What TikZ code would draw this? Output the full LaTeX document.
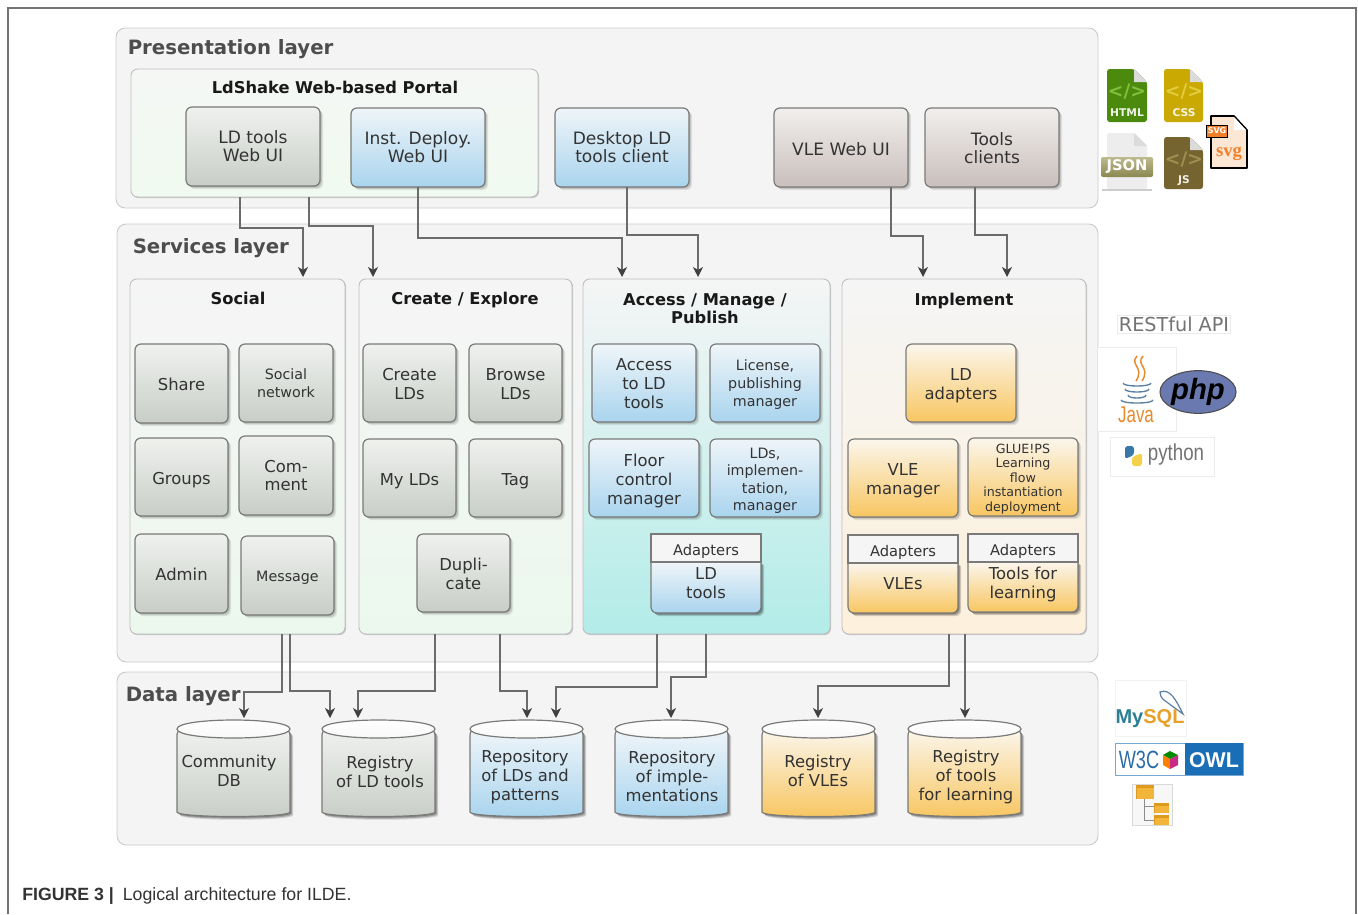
\documentclass[tikz,border=0pt]{standalone}
\usepackage{fontspec}
\setmainfont{DejaVu Sans}
\newfontfamily\capfont{Liberation Sans}
\newfontfamily\serffont{Liberation Serif}
\usetikzlibrary{arrows.meta,shadows,shapes.geometric,calc}
\definecolor{txt}{HTML}{333333}
\definecolor{head}{HTML}{4D4D4D}
\definecolor{bord}{HTML}{7A7A78}
\definecolor{gT}{HTML}{EFF1EE}\definecolor{gB}{HTML}{C8CEC7}
\definecolor{bT}{HTML}{EFF5F9}\definecolor{bB}{HTML}{A9D4EE}
\definecolor{rT}{HTML}{F1EFED}\definecolor{rB}{HTML}{C9BFBC}
\definecolor{oT}{HTML}{FBF6EC}\definecolor{oB}{HTML}{F8C661}
\definecolor{pT}{HTML}{F5F7F5}\definecolor{pB}{HTML}{F0FAF0}
\definecolor{sT}{HTML}{F5F5F5}\definecolor{sB}{HTML}{ECF8EE}
\definecolor{aB}{HTML}{B2ECE8}\definecolor{iB}{HTML}{FDF0DC}
\definecolor{htmlc}{HTML}{4C8A0E}\definecolor{htmlk}{HTML}{7FC13A}
\definecolor{cssc}{HTML}{C9A902}\definecolor{cssk}{HTML}{E3CC3E}
\definecolor{jsc}{HTML}{75642F}\definecolor{jsk}{HTML}{A08F50}
\definecolor{jsonb}{HTML}{A39E5F}\definecolor{svgo}{HTML}{F0802A}
\definecolor{javao}{HTML}{E88A2E}\definecolor{javab}{HTML}{5A7FA0}
\definecolor{phpc}{HTML}{6A7AB0}\definecolor{pyb}{HTML}{3A78A8}\definecolor{pyy}{HTML}{F5D04A}
\definecolor{myt}{HTML}{2A7F94}\definecolor{mys}{HTML}{E8A02A}
\definecolor{owlb}{HTML}{1A6EB5}\definecolor{w3cb}{HTML}{2B6CA8}
\definecolor{foldA}{HTML}{DE9A1C}\definecolor{foldB}{HTML}{F2B53A}
\newcommand\fa{\fontsize{12.8}{13.5}\selectfont}
\newcommand\fb{\fontsize{12.3}{14.2}\selectfont}
\newcommand\fc{\fontsize{10.7}{13.2}\selectfont}
\newcommand\fd{\fontsize{9.5}{10.9}\selectfont}
% text moved down by #1 px inside its node
\newcommand\sh[2]{\raisebox{\dimexpr-#1\dimexpr.75pt\relax-.25em\relax}[0pt][0pt]{\begin{tabular}{@{}c@{}}#2\end{tabular}}}
\tikzset{
  softshadow/.style={
    drop shadow={shadow xshift=.8pt,shadow yshift=-.8pt,fill=black,opacity=.11},
    drop shadow={shadow xshift=1.6pt,shadow yshift=-1.6pt,fill=black,opacity=.11},
    drop shadow={shadow xshift=2.4pt,shadow yshift=-2.4pt,fill=black,opacity=.08}},
  layerp/.style={draw=black!20,fill=black!4.5,rounded corners=7pt,line width=.7pt},
  grad/.style 2 args={top color=#1,bottom color=#2},
  paneltitle/.style={font=\fontsize{12.2}{13.5}\selectfont\bfseries,text=black!90,align=center},
  layertitle/.style={font=\fontsize{14.8}{16}\selectfont\bfseries,text=head,anchor=west,inner sep=0pt},
  panel/.style={draw=black!25,line width=.7pt,rounded corners=5pt,inner sep=0pt,outer sep=0pt,
    drop shadow={shadow xshift=.8pt,shadow yshift=-.8pt,fill=black,opacity=.2}},
  cbox/.style={draw=bord,line width=.9pt,rounded corners=4.5pt,inner sep=0pt,outer sep=0pt,align=center,text=txt,font=\fb,softshadow},
  gbox/.style={cbox,grad={gT}{gB}},
  bbox/.style={cbox,grad={bT}{bB}},
  rbox/.style={cbox,grad={rT}{rB}},
  obox/.style={cbox,grad={oT}{oB}},
  adapt/.style={draw=bord,line width=.9pt,fill=black!4,inner sep=0pt,outer sep=0pt,align=center,text=txt,font=\fontsize{11}{13}\selectfont},
  cylb/.style={draw=bord,line width=.9pt,softshadow},
  conn/.style={draw=black!58,line width=.8pt,-{Stealth[length=7.5pt,width=7.5pt,inset=2.2pt,color=black!75]}},
  lbl/.style={inner sep=0pt,outer sep=0pt,align=center,text=txt},
}
% name x1 y1 x2 y2 style text
\newcommand\bx[7]{\node[#6,minimum width={(#4-#2)*0.75pt},minimum height={(#5-#3)*0.75pt}] (#1) at ({(#2+#4)/2},{(#3+#5)/2}) {#7};}
% name x1 x2 y1 ym y2 colourstyle text texty
\newcommand\adbox[9]{%
  \path[cylb,#7] (#2,#5) [rounded corners=4.5pt] -- (#2,#6) -- (#3,#6) [sharp corners] -- (#3,#5) -- cycle;
  \node[adapt,minimum width={(#3-#2)*0.75pt},minimum height={(#5-#4)*0.75pt}] (#1a) at ({(#2+#3)/2},{(#4+#5)/2}) {\sh{4}{Adapters}};
  \node[lbl,font=\fb,minimum width={(#3-#2)*0.75pt}] (#1) at ({(#2+#3)/2},#9) {#8};}
% name x1 x2 colourstyle text text-x text-y (text-x as #6, text-y as #7)
\newcommand\cyl[7]{%
  \path[cylb,#4] (#2,729) -- (#2,806) .. controls (#2,818) and (#3,818) .. (#3,806) -- (#3,729) -- cycle;
  \path[draw=bord,line width=.9pt,top color=white,bottom color=black!3] (#2,729) .. controls (#2,717) and (#3,717) .. (#3,729) .. controls (#3,741) and (#2,741) .. (#2,729) -- cycle;
  \node[inner sep=0pt,outer sep=0pt,minimum width={(#3-#2)*0.75pt},minimum height=71.25pt] (#1) at ({(#2+#3)/2},767.5) {};
  \node[lbl,font=\fb] (#1t) at (#6,#7) {#5};}
% src x1 ymid dst x2
\newcommand\conn[5]{\draw[conn] (#1.south -| #2,0) -- (#2,#3) -- (#5,#3) -- ([yshift=1.5pt]#4.north -| #5,0);}
% doc icon: x1 y1 x2 y2 fold colour
\newcommand\doc[6]{%
  \fill[#6,rounded corners=2pt] (#1,#2) -- ({#3-#5},#2) -- (#3,{#2+#5}) -- (#3,#4) -- (#1,#4) -- cycle;
  \fill[black!14] ({#3-#5},#2) -- (#3,{#2+#5}) -- ({#3-#5},{#2+#5}) -- cycle;}
\begin{document}
\begin{tikzpicture}[x=0.75pt,y=-0.75pt]
\useasboundingbox (0,0) rectangle (1358,914);
\fill[white] (0,0) rectangle (1358,914);
% frame
\draw[black!55,line width=1.3pt] (8,914) -- (8,8) -- (1356,8) -- (1356,914);
% layers
\bx{presentation}{116}{28}{1098}{208}{layerp}{}
\bx{services}{117}{224}{1098}{662}{layerp}{}
\bx{datal}{117}{672}{1098}{845}{layerp}{}
\node[layertitle] (tp) at (127.5,49) {Presentation layer};
\node[layertitle] (ts) at (132.5,248) {Services layer};
\node[layertitle] (td) at (125.5,696) {Data layer};
% portal
\bx{portal}{131}{69}{538}{197}{panel,grad={pT}{pB}}{}
\node[paneltitle] (tportal) at (335,87) {LdShake Web-based Portal};
\bx{ldtoolsui}{186}{107}{320}{186}{gbox,font=\fa}{LD tools\\Web UI}
\bx{instui}{351}{108}{485}{187}{bbox,font=\fa}{Inst. Deploy.\\Web UI}
\bx{desktop}{555}{108}{689}{187}{bbox,font=\fa}{Desktop LD\\tools client}
\bx{vleui}{774}{108}{908}{187}{rbox,font=\fa}{\sh{3.5}{VLE Web UI}}
\bx{toolscl}{925}{108}{1059}{187}{rbox,font=\fa}{\sh{3}{Tools\\clients}}
% service panels
\bx{social}{130}{279}{345}{634}{panel,grad={sT}{sB}}{}
\bx{create}{359}{279}{572}{634}{panel,grad={sT}{sB}}{}
\bx{access}{583}{279}{830}{634}{panel,grad={sT}{aB}}{}
\bx{implement}{842}{279}{1086}{634}{panel,grad={sT}{iB}}{}
\node[paneltitle] (t1) at (238,298) {Social};
\node[paneltitle] (t2) at (465,300) {Create / Explore};
\node[paneltitle] (t3) at (705,309) {Access / Manage /\\Publish};
\node[paneltitle] (t4) at (964,301) {Implement};
% social
\bx{share}{135}{344}{228}{423}{gbox}{\sh{3.5}{Share}}
\bx{socnet}{239}{344}{333}{422}{gbox,font=\fc}{Social\\network}
\bx{groups}{135}{438}{228}{516}{gbox}{\sh{3.5}{Groups}}
\bx{comment}{239}{436}{333}{515}{gbox}{Com-\\ment}
\bx{admin}{135}{534}{228}{613}{gbox}{\sh{3.5}{Admin}}
\bx{message}{241}{536}{334}{615}{gbox,font=\fc}{\sh{3}{Message}}
% create
\bx{createld}{363}{344}{456}{422}{gbox}{\sh{3.5}{Create\\LDs}}
\bx{browse}{469}{344}{562}{422}{gbox}{\sh{3.5}{Browse\\LDs}}
\bx{myld}{363}{439}{456}{517}{gbox}{\sh{3.5}{My LDs}}
\bx{tag}{469}{439}{562}{517}{gbox}{\sh{3.5}{Tag}}
\bx{dup}{417}{534}{510}{612}{gbox}{\sh{3.5}{Dupli-\\cate}}
% access
\bx{acc}{592}{344}{696}{422}{bbox}{\sh{2.5}{Access\\to LD\\tools}}
\bx{lic}{710}{344}{820}{422}{bbox,font=\fc}{\sh{2}{License,\\publishing\\manager}}
\bx{floor}{589}{439}{699}{517}{bbox}{\sh{3.5}{Floor\\control\\manager}}
\bx{ldimp}{710}{439}{820}{517}{bbox,font=\fc}{\sh{3}{LDs,\\implemen-\\tation,\\manager}}
\adbox{ldt}{651}{761}{534}{562}{613}{bbox}{LD\\tools}{583.5}
% implement
\bx{ldad}{906}{344}{1016}{422}{obox}{\sh{3.5}{LD\\adapters}}
\bx{vlem}{848}{439}{958}{517}{obox}{\sh{3.5}{VLE\\manager}}
\bx{glue}{968}{438}{1078}{516}{obox,font=\fd}{\sh{2}{GLUE!PS\\Learning\\flow\\instantiation\\deployment}}
\adbox{vles}{848}{958}{535}{563}{613}{obox}{VLEs}{584}
\adbox{tfl}{968}{1078}{534}{562}{612}{obox}{Tools for\\learning}{584.5}
% data
\cyl{commdb}{177}{290}{gbox}{Community\\DB}{229}{771}
\cyl{regld}{322}{435}{gbox}{Registry\\of LD tools}{380}{771.5}
\cyl{repold}{470}{583}{bbox}{Repository\\of LDs and\\patterns}{525}{777}
\cyl{repoim}{615}{728}{bbox}{Repository\\of imple-\\mentations}{672}{776}
\cyl{regvle}{762}{875}{obox}{Registry\\of VLEs}{818}{771}
\cyl{regtl}{908}{1021}{obox}{Registry\\of tools\\for learning}{966}{777}
% connectors
\conn{portal}{240}{228}{social}{303}
\conn{portal}{309}{226}{create}{373}
\conn{instui}{418}{238}{access}{622}
\conn{desktop}{627}{235}{access}{698}
\conn{vleui}{891}{236}{implement}{923}
\conn{toolscl}{975}{235}{implement}{1007}
\conn{social}{282}{692}{commdb}{244}
\conn{social}{290}{691}{regld}{330}
\conn{create}{435}{691}{regld}{358}
\conn{create}{500}{691}{repold}{527}
\conn{access}{657}{687}{repold}{556}
\conn{access}{706}{677}{repoim}{671}
\conn{implement}{949}{686}{regvle}{818}
\draw[conn] (implement.south -| 965,0) -- ([yshift=1.5pt]regtl.north -| 965,0);
% file icons
\doc{1107}{69}{1147}{122}{13}{htmlc}
\node[font=\bfseries\fontsize{14}{14}\selectfont,text=htmlk] (hc) at (1127,92) {</>};
\node[font=\bfseries\fontsize{8}{9}\selectfont,text=white!90!htmlc] (ht) at (1127,113) {HTML};
\doc{1164}{69}{1203}{122}{13}{cssc}
\node[font=\bfseries\fontsize{14}{14}\selectfont,text=cssk] (cc) at (1184,92) {</>};
\node[font=\bfseries\fontsize{8}{9}\selectfont,text=white!90!cssc] (ct) at (1184,113) {CSS};
\doc{1107}{133}{1147}{190}{13}{black!7}
\fill[black!20] (1102,189) rectangle (1152,191);
\node[top color=jsonb!70!white,bottom color=jsonb!85!black,rounded corners=1.5pt,minimum width=39pt,minimum height=15pt,inner sep=0pt,font=\bfseries\fontsize{11}{12}\selectfont,text=white] (jt) at (1127,167) {JSON};
\doc{1164}{137}{1203}{189}{13}{jsc}
\node[font=\bfseries\fontsize{14}{14}\selectfont,text=jsk] (jc) at (1184,160) {</>};
\node[font=\bfseries\fontsize{8}{9}\selectfont,text=white!90!jsc] (jst) at (1184,181) {JS};
\draw[black,line width=1.2pt,fill=svgo!20!white,line join=round] (1211,116) -- (1234,116) -- (1247,130) -- (1247,168) -- (1211,168) -- cycle;
\fill[white] (1234,117) -- (1246,130) -- (1234,130) -- cycle;
\node[draw=black,fill=svgo,minimum width=16pt,minimum height=9pt,inner sep=0pt,font=\bfseries\fontsize{6}{7}\selectfont,text=white] (st) at (1217,131) {SVG};
\node[font=\serffont\bfseries\fontsize{14}{14}\selectfont,text=svgo] (sv) at (1229,154) {svg};
% REST
\node[draw=black!8,inner sep=1pt,font=\fontsize{14.4}{15}\selectfont,text=black!55] (rest) at (1174,324) {RESTful API};
\draw[black!7,fill=white] (1098,347) -- (1176,347) -- (1176,431) -- (1098,431);
\foreach \dx in {0,6}{\draw[javao,line width=1.1pt] ({1137+\dx},356) .. controls ({1129+\dx},365) and ({1145+\dx},367) .. ({1136+\dx},381);}
\foreach \yy/\rx in {383/14,389/12,395/9,400/16}{\draw[javab,line width=1pt] ({1137-\rx},\yy) .. controls ({1137-\rx},{\yy+4}) and ({1137+\rx},{\yy+4}) .. ({1137+\rx},\yy);}
\node[font=\capfont\fontsize{15.5}{16}\selectfont,text=javao] (java) at (1136,415) {\scalebox{.82}[1.1]{Java}};
\node[draw=black!70,line width=.8pt,ellipse,fill=phpc,minimum width=56pt,minimum height=32pt,inner sep=0pt,font=\capfont\bfseries\itshape\fontsize{22}{22}\selectfont,text=black] (php) at (1198,392) {php};
\node[draw=black!7,minimum width=78pt,minimum height=29pt,inner sep=0pt] (pybox) at (1162.5,456.5) {};
\fill[pyb,rounded corners=2pt] (1125,446) -- (1134,446) -- (1134,455) -- (1125,459) -- cycle;
\fill[pyy,rounded corners=2pt] (1142,453) -- (1142,466) -- (1132,466) -- (1132,457) -- cycle;
\node[font=\capfont\fontsize{16.5}{17}\selectfont,text=black!55] (py) at (1176,455) {\scalebox{.85}[1.05]{python}};
% data icons
\node[draw=black!5,minimum width=53pt,minimum height=42pt,inner sep=0pt] (mybox) at (1150.5,708) {};
\draw[javab,line width=.9pt,fill=white] (1160,692) .. controls (1170,688) and (1176,700) .. (1183,714) .. controls (1175,708) and (1172,706) .. (1168,703) .. controls (1164,700) and (1160,698) .. (1160,692) -- cycle;
\node[font=\capfont\bfseries\fontsize{15}{15}\selectfont,anchor=base] (my) at (1150,723) {\textcolor{myt}{My}\textcolor{mys}{SQL}};
\node[draw=owlb!60!white,fill=white,minimum width=96pt,minimum height=24pt,inner sep=0pt] (owlbox) at (1179,759) {};
\fill[owlb] (1185,743) rectangle (1243,775);
\node[font=\capfont\bfseries\fontsize{16}{16}\selectfont,text=white] (owl) at (1214,760) {OWL};
\node[font=\capfont\fontsize{17}{17}\selectfont,text=w3cb] (w3c) at (1139,760) {\scalebox{.8}[1.1]{W3C}};
\fill[green!55!black] (1163,755) -- (1170,751) -- (1178,755) -- (1170,759) -- cycle;
\fill[orange] (1163,755) -- (1170,759) -- (1170,769) -- (1163,765) -- cycle;
\fill[magenta!80!black] (1178,755) -- (1170,759) -- (1170,769) -- (1178,765) -- cycle;
\node[draw=black!15,fill=black!3,minimum width=30pt,minimum height=31pt,inner sep=0pt] (treebox) at (1152,805) {};
\draw[black!45,line width=.7pt] (1144,795) -- (1144,820) -- (1154,820) (1144,806) -- (1154,806);
\foreach \xa/\ya/\w/\h in {1136/785/18/14,1154/803/15/10,1154/815/15/10}{
  \fill[foldA] (\xa,\ya) rectangle ({\xa+\w},{\ya+\h});
  \fill[foldB] ({\xa+1},{\ya+3}) rectangle ({\xa+\w},{\ya+\h});}
% caption
\node[anchor=base west,inner sep=0pt,font=\capfont\fontsize{13.3}{15}\selectfont,text=black!80] (caption) at (22,900) {\textbf{FIGURE 3 |}\hspace{3pt} Logical architecture for ILDE.};
\end{tikzpicture}
\end{document}
